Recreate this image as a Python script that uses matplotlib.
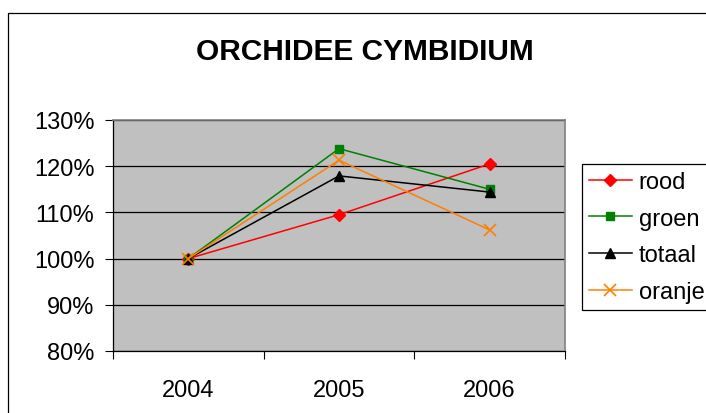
import matplotlib.pyplot as plt
from matplotlib.patches import Rectangle

plt.rcParams['font.family'] = ['Liberation Sans', 'DejaVu Sans']

# data
years = ['2004', '2005', '2006']
rood = [100.0, 109.5, 120.5]
groen = [100.0, 123.8, 115.0]
totaal = [100.0, 117.9, 114.4]
oranje = [100.0, 121.3, 106.2]

W, H = 706, 414
fig = plt.figure(figsize=(W / 100, H / 100), dpi=100, facecolor='white')

# chart frame (runs off right and bottom edge)
fig.patches.append(Rectangle((8 / W, -0.2), 1.2, 1.2 - 14 / H,
                             transform=fig.transFigure, facecolor='none',
                             edgecolor='black', linewidth=0.9))

ax = fig.add_axes([113 / W, (H - 352) / H, 452 / W, 231 / H])
ax.set_facecolor('#C0C0C0')

x = range(len(years))
ax.plot(x, rood, color='#FF0000', marker='D', markersize=6, linewidth=1.1, label='rood')
ax.plot(x, groen, color='#008000', marker='s', markersize=6, linewidth=1.1, label='groen')
ax.plot(x, totaal, color='black', marker='^', markersize=7, linewidth=1.1, label='totaal')
ax.plot(x, oranje, color='#FF7F00', marker='x', markersize=8, markeredgewidth=1.2,
        linewidth=1.1, label='oranje')

ax.set_xlim(-0.5, 2.5)
ax.set_ylim(80, 130)
ax.set_yticks(range(80, 131, 10))
ax.set_yticklabels([f'{v}%' for v in range(80, 131, 10)], fontsize=17)
ax.set_xticks(list(x))
ax.set_xticklabels(years, fontsize=17)
ax.set_xticks([-0.5, 0.5, 1.5, 2.5], minor=True)
ax.tick_params(axis='x', which='major', length=0, pad=20)
ax.tick_params(axis='x', which='minor', length=6, width=0.8, direction='out')
ax.tick_params(axis='y', length=6, width=0.8, direction='out', pad=7.5)
ax.yaxis.grid(True, color='black', linewidth=0.9)
ax.set_axisbelow(True)

for s in ['left', 'bottom']:
    ax.spines[s].set_color('black')
    ax.spines[s].set_linewidth(0.9)
for s in ['top', 'right']:
    ax.spines[s].set_color('#808080')
    ax.spines[s].set_linewidth(1.2)

fig.text(365 / W, 1 - 52 / H, 'ORCHIDEE CYMBIDIUM', fontsize=21.5, fontweight='bold',
         ha='center', va='center')

# legend runs off the right edge, as in the original
leg = fig.legend(loc='upper left', bbox_to_anchor=(582 / W, 1 - 165 / H),
                 fontsize=17, frameon=True, fancybox=False, edgecolor='black',
                 framealpha=1, handlelength=1.8, handletextpad=0.3,
                 labelspacing=0.62, borderpad=0.3, borderaxespad=0)
leg.get_frame().set_linewidth(0.9)

fig.savefig('out.png', dpi=100, facecolor='white')
